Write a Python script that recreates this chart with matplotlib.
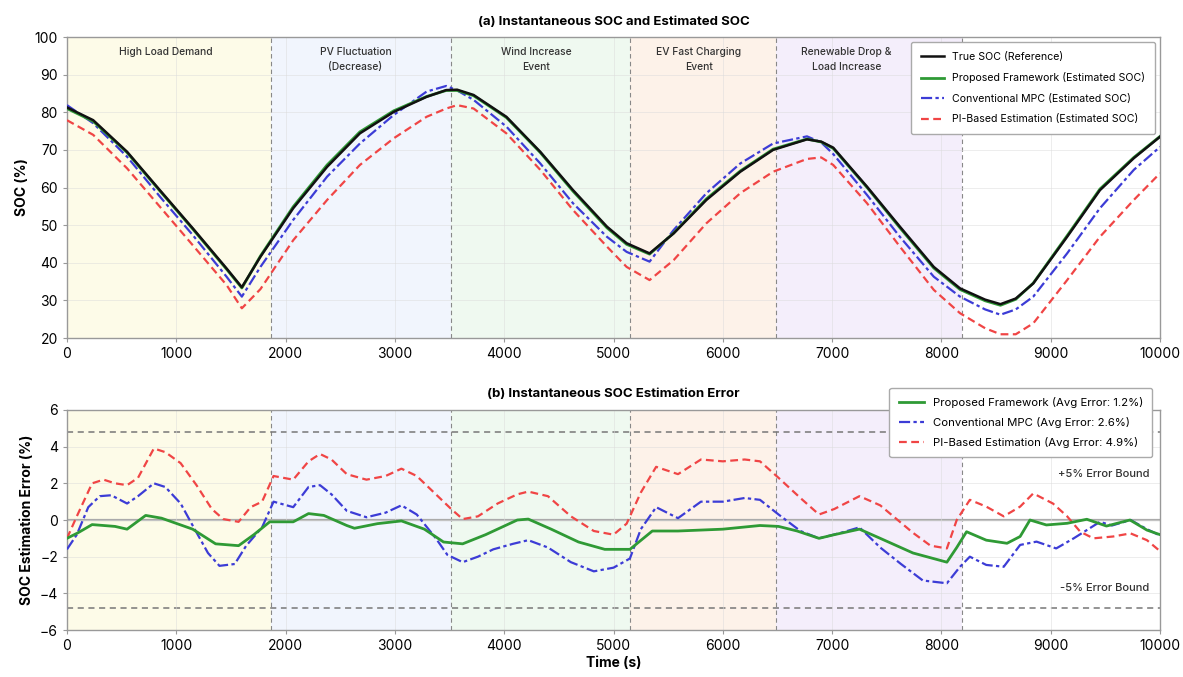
import numpy as np
import matplotlib
matplotlib.use("Agg")
import matplotlib.pyplot as plt

plt.rcParams['font.family'] = ['Inter', 'DejaVu Sans']

# --- (a) SOC traces ---
t_soc = [0, 240, 550, 850, 1150, 1460, 1600, 1770, 2070, 2380, 2680, 2990, 3290,
         3470, 3570, 3720, 4020, 4330, 4630, 4940, 5120, 5330, 5550, 5850, 6160,
         6460, 6770, 6900, 7010, 7320, 7620, 7930, 8170, 8400, 8540, 8680, 8840, 9150,
         9450, 9760, 10000]
soc_true = [81.3, 77.9, 69.5, 59.3, 49.2, 38.5, 33.5, 41.6, 54.5, 65.5, 74.4, 80.1, 84.1,
            85.9, 86.0, 84.6, 78.8, 69.5, 59.3, 49.6, 45.2, 42.5, 47.8, 56.7, 64.2,
            70.0, 72.8, 72.2, 70.6, 60.2, 49.6, 38.9, 33.2, 30.2, 29.0, 30.5, 34.5, 46.9,
            59.3, 67.8, 73.5]
soc_prop = [81.0, 77.6, 69.3, 59.1, 49.0, 38.3, 33.3, 41.8, 54.9, 66.0, 74.8, 80.4, 84.2,
            85.8, 85.8, 84.4, 78.6, 69.3, 59.0, 49.3, 44.9, 42.3, 47.9, 57.0, 64.4,
            70.2, 72.9, 72.1, 70.4, 60.0, 49.3, 38.6, 32.9, 29.9, 28.7, 30.3, 34.6, 47.2,
            59.6, 68.0, 73.6]
soc_mpc = [81.9, 77.1, 68.2, 57.6, 47.4, 36.3, 31.0, 38.9, 51.4, 62.9, 71.7, 79.3, 85.5,
           87.0, 85.8, 83.3, 76.2, 66.4, 55.8, 46.9, 42.9, 40.3, 48.7, 58.5, 66.4,
           71.7, 73.6, 72.0, 68.9, 58.0, 46.9, 36.3, 31.0, 27.6, 26.2, 27.6, 31.0, 42.5,
           54.5, 64.7, 70.8]
soc_pi = [77.9, 74.0, 65.1, 54.9, 44.7, 34.1, 27.9, 33.0, 46.0, 56.7, 66.0, 73.1, 78.8,
          81.0, 81.9, 81.0, 74.4, 64.7, 54.0, 44.3, 38.9, 35.4, 40.7, 50.5, 58.5,
          64.2, 67.6, 68.0, 66.0, 55.8, 44.3, 32.8, 26.6, 22.6, 21.0, 21.0, 23.9, 35.4,
          46.9, 56.7, 63.8]

# --- (b) estimation errors ---
t_err_prop = [0, 100, 230, 440, 550, 720, 865, 1150, 1360, 1570, 1710, 1855, 2070, 2210,
              2350, 2560, 2630, 2840, 3060, 3270, 3445, 3620, 3830, 4120, 4220, 4430,
              4680, 4920, 5150, 5355, 5590, 6000, 6340, 6510, 6680, 6880, 7020, 7250,
              7440, 7740, 8050, 8140, 8230, 8410, 8600, 8720, 8810, 8960, 9150, 9330,
              9510, 9725, 9880, 10000]
err_prop = [-1.0, -0.7, -0.25, -0.35, -0.5, 0.25, 0.1, -0.5, -1.3, -1.4, -0.8, -0.1, -0.1, 0.35,
            0.25, -0.3, -0.45, -0.2, -0.05, -0.5, -1.2, -1.3, -0.8, 0.0, 0.05, -0.5,
            -1.2, -1.6, -1.6, -0.6, -0.6, -0.5, -0.3, -0.35, -0.6, -1.0, -0.8, -0.5,
            -1.0, -1.8, -2.3, -1.5, -0.64, -1.1, -1.27, -0.9, 0.0, -0.27, -0.18, 0.04,
            -0.33, 0.0, -0.55, -0.8]

t_err_mpc = [0, 90, 195, 300, 405, 550, 650, 795, 900, 1040, 1150, 1290, 1395, 1535, 1640,
             1785, 1890, 2070, 2210, 2315, 2420, 2560, 2740, 2915, 3060, 3200, 3375, 3480,
             3620, 3760, 3900, 4080, 4220, 4400, 4610, 4820, 5000, 5150, 5250, 5390, 5590,
             5800, 6000, 6200, 6340, 6510, 6710, 6880, 7080, 7250, 7440, 7630, 7830, 8050,
             8170, 8260, 8410, 8570, 8720, 8870, 9050, 9210, 9330, 9450, 9560, 9730, 9880, 10000]
err_mpc = [-1.6, -0.8, 0.7, 1.3, 1.35, 0.9, 1.3, 2.0, 1.8, 0.9, -0.3, -1.8, -2.5, -2.4, -1.4,
           -0.4, 1.0, 0.7, 1.8, 1.9, 1.4, 0.5, 0.15, 0.4, 0.8, 0.3, -1.0, -1.9,
           -2.3, -2.0, -1.6, -1.3, -1.1, -1.5, -2.3, -2.8, -2.6, -2.1, -0.5, 0.7, 0.1,
           1.0, 1.0, 1.2, 1.1, 0.3, -0.6, -1.0, -0.7, -0.4, -1.5, -2.4, -3.3, -3.45,
           -2.55, -2.0, -2.45, -2.55, -1.36, -1.18, -1.55, -1.0, -0.55, -0.1, -0.3, 0.0, -0.5, -0.85]

t_err_pi = [0, 90, 230, 335, 440, 550, 650, 795, 900, 1040, 1185, 1325, 1430, 1570, 1680,
            1785, 1890, 2070, 2210, 2315, 2420, 2560, 2740, 2915, 3060, 3200, 3375, 3515,
            3620, 3760, 3940, 4120, 4220, 4400, 4610, 4820, 5000, 5120, 5250, 5390, 5590,
            5800, 6000, 6200, 6340, 6510, 6710, 6880, 7020, 7250, 7440, 7740, 7900, 8050,
            8140, 8260, 8410, 8570, 8720, 8840, 9020, 9150, 9270, 9390, 9570, 9730, 9880, 10000]
err_pi = [-1.0, 0.2, 2.0, 2.2, 2.0, 1.9, 2.3, 3.9, 3.7, 3.1, 1.9, 0.6, 0.05, -0.1, 0.7,
          1.0, 2.4, 2.2, 3.2, 3.6, 3.3, 2.5, 2.2, 2.4, 2.8, 2.4, 1.4, 0.6,
          0.05, 0.2, 0.9, 1.4, 1.55, 1.3, 0.2, -0.6, -0.8, -0.2, 1.5, 2.9, 2.5,
          3.3, 3.2, 3.3, 3.2, 2.3, 1.2, 0.3, 0.6, 1.3, 0.8, -0.7, -1.4, -1.55,
          0.0, 1.1, 0.73, 0.2, 0.73, 1.45, 0.9, 0.2, -0.64, -1.0, -0.9, -0.73, -1.1, -1.7]

# --- scenario regions ---
region_edges = [0, 1870, 3510, 5150, 6490, 8190, 10000]
region_names = ["High Load Demand", "PV Fluctuation\n(Decrease)", "Wind Increase\nEvent",
                "EV Fast Charging\nEvent", "Renewable Drop &\nLoad Increase", None]
# label centres as seen in the reference (the last one sits left of the legend)
region_label_x = [900, 2640, 4290, 5780, 7130, None]
region_colors = ["#fdfbe8", "#f1f5fd", "#eff9f0", "#fdf2e9", "#f4eefb", "#ffffff"]

avg_err = [1.2, 2.6, 4.9]
bound = 4.8

c_true = "#111111"
c_prop = "#2f9a35"
c_mpc = "#3c3cd6"
c_pi = "#f04545"

fig = plt.figure(figsize=(11.83, 6.77), dpi=100)
ax1 = fig.add_axes([0.0566, 0.5007, 0.924, 0.4446])
ax2 = fig.add_axes([0.0566, 0.0694, 0.924, 0.325])


def shade(ax):
    for i in range(len(region_edges) - 1):
        ax.axvspan(region_edges[i], region_edges[i + 1], color=region_colors[i], zorder=0, lw=0)
    for x in region_edges[1:-1]:
        ax.axvline(x, color="#888888", ls=(0, (4, 3)), lw=0.8, zorder=1)
    ax.grid(True, color="#dcdcdc", lw=0.6, alpha=0.6, zorder=0.5)
    ax.set_xlim(0, 10000)
    ax.set_xticks(range(0, 10001, 1000))
    for s in ax.spines.values():
        s.set_color("#999999")
        s.set_linewidth(1.0)
    ax.tick_params(labelsize=10, color="#999999", length=3)


shade(ax1)
for name, x in zip(region_names, region_label_x):
    if name:
        ax1.text(x, 97.3, name, ha="center", va="top", fontsize=7.4, fontweight="medium",
                 color="#333333", linespacing=1.55, zorder=3)

l_pi, = ax1.plot(t_soc, soc_pi, color=c_pi, ls=(0, (3.5, 2)), lw=1.6, zorder=3,
                 label="PI-Based Estimation (Estimated SOC)")
l_mpc, = ax1.plot(t_soc, soc_mpc, color=c_mpc, ls=(0, (5, 1.5, 1.5, 1.5)), lw=1.6, zorder=4,
                  label="Conventional MPC (Estimated SOC)")
l_prop, = ax1.plot(t_soc, soc_prop, color=c_prop, lw=2.0, zorder=5,
                   label="Proposed Framework (Estimated SOC)")
l_true, = ax1.plot(t_soc, soc_true, color=c_true, lw=1.8, zorder=6, label="True SOC (Reference)")
ax1.set_ylim(20, 100)
ax1.set_yticks(range(20, 101, 10))
ax1.set_ylabel("SOC (%)", fontsize=10, fontweight="bold")
ax1.set_title("(a) Instantaneous SOC and Estimated SOC", fontsize=9.5, fontweight="bold", pad=9)
ax1.legend(handles=[l_true, l_prop, l_mpc, l_pi], loc="upper right", fontsize=7.6,
           framealpha=1, edgecolor="#aaaaaa", borderpad=0.9, labelspacing=1.0, handlelength=2.2)

shade(ax2)
ax2.axhline(0, color="#aaaaaa", lw=1.6, zorder=1.5)
ax2.axhline(bound, color="#777777", ls=(0, (4, 3)), lw=1.1, zorder=1.5)
ax2.axhline(-bound, color="#777777", ls=(0, (4, 3)), lw=1.1, zorder=1.5)
e_pi, = ax2.plot(t_err_pi, err_pi, color=c_pi, ls=(0, (3.5, 2)), lw=1.6, zorder=3,
                 label=f"PI-Based Estimation (Avg Error: {avg_err[2]}%)")
e_mpc, = ax2.plot(t_err_mpc, err_mpc, color=c_mpc, ls=(0, (5, 1.5, 1.5, 1.5)), lw=1.6, zorder=4,
                  label=f"Conventional MPC (Avg Error: {avg_err[1]}%)")
e_prop, = ax2.plot(t_err_prop, err_prop, color=c_prop, lw=2.0, zorder=5,
                   label=f"Proposed Framework (Avg Error: {avg_err[0]}%)")
ax2.text(9900, 2.5, "+5% Error Bound", ha="right", va="center", fontsize=8,
         fontweight="medium", color="#333333")
ax2.text(9900, -3.7, "-5% Error Bound", ha="right", va="center", fontsize=8,
         fontweight="medium", color="#333333")
ax2.set_ylim(-6, 6)
ax2.set_yticks(range(-6, 7, 2))
ax2.set_ylabel("SOC Estimation Error (%)", fontsize=10, fontweight="bold")
ax2.set_xlabel("Time (s)", fontsize=10, fontweight="bold", labelpad=2)
ax2.set_title("(b) Instantaneous SOC Estimation Error", fontsize=9.5, fontweight="bold", pad=9)
ax2.legend(handles=[e_prop, e_mpc, e_pi], loc="upper right", bbox_to_anchor=(0.998, 1.127),
           fontsize=8.2, framealpha=1, edgecolor="#aaaaaa", borderpad=0.8, labelspacing=0.8,
           handlelength=2.2)

fig.savefig("out.png", dpi=100)
